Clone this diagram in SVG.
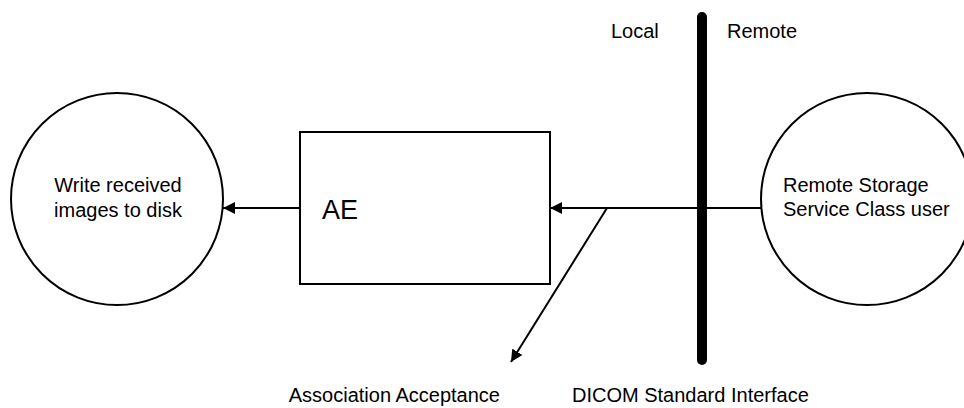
<svg xmlns="http://www.w3.org/2000/svg" width="964" height="408" viewBox="0 0 964 408">
<style>
.node{fill:#fff;stroke:#000;stroke-width:2}
.t{font-family:"Liberation Sans",Arial,sans-serif;font-size:20px;fill:#000}
.c{stroke:#000;stroke-width:2;fill:none}
</style>
<defs>
<marker id="ah" markerUnits="userSpaceOnUse" markerWidth="13" markerHeight="12" refX="12" refY="6" orient="auto">
<path d="M0,0 L12,6 L0,12 z" fill="#000"/>
</marker>
</defs>
<rect width="964" height="408" fill="#fff"/>
<g id="write">
<circle class="node" cx="117" cy="199" r="106"/>
<text class="t" x="118" y="192" text-anchor="middle">Write received</text>
<text class="t" x="118" y="217" text-anchor="middle">images to disk</text>
</g>
<g id="ae">
<rect class="node" x="300" y="132" width="250" height="152"/>
<text class="t" x="322" y="219" style="font-size:27px">AE</text>
</g>
<g id="remote">
<circle class="node" cx="867" cy="199" r="106"/>
<text class="t" x="783" y="192">Remote Storage</text>
<text class="t" x="783" y="216">Service Class user</text>
</g>
<g id="boundary">
<line x1="702" y1="17" x2="702" y2="360" stroke="#000" stroke-width="10" stroke-linecap="round"/>
<text class="t" x="611" y="38">Local</text>
<text class="t" x="727" y="38">Remote</text>
<text class="t" x="572" y="402">DICOM Standard Interface</text>
</g>
<g id="connectors">
<line class="c" x1="300" y1="208" x2="223" y2="208" marker-end="url(#ah)"/>
<line class="c" x1="761" y1="208" x2="550" y2="208" marker-end="url(#ah)"/>
<line class="c" x1="607" y1="208" x2="511" y2="362" marker-end="url(#ah)"/>
</g>
<g id="assoc">
<text class="t" x="500" y="402" text-anchor="end">Association Acceptance</text>
</g>
</svg>
